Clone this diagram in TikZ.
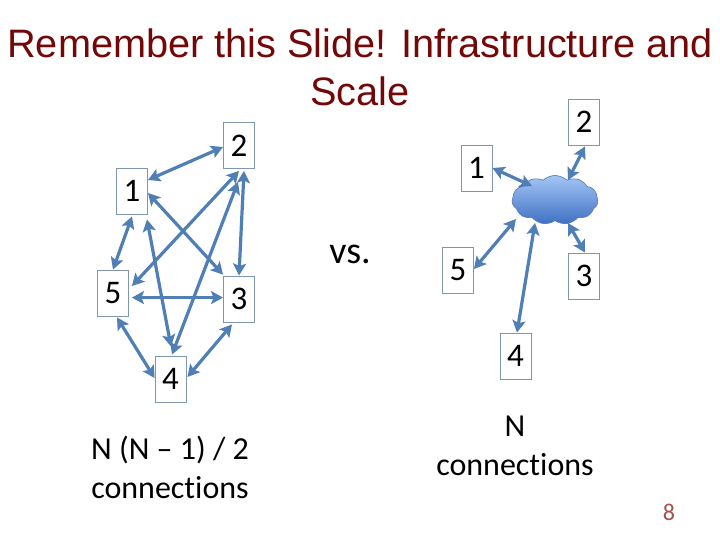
\documentclass[tikz,border=0pt]{standalone}
\usepackage{fontspec}
\setmainfont[Ligatures=CommonOff]{Carlito}
\newfontfamily\titlefont{Liberation Sans}
\usetikzlibrary{arrows.meta,shapes.symbols}
\definecolor{titlered}{HTML}{720808}
\definecolor{pagered}{HTML}{A5504A}
\definecolor{linkblue}{HTML}{4F7FB5}
\definecolor{boxedge}{HTML}{7F97AE}
\definecolor{cloudtop}{HTML}{A4C6F4}
\definecolor{cloudbot}{HTML}{3F70C4}
\definecolor{cloudedge}{HTML}{5B82B8}
\tikzset{
  numbox/.style={draw=boxedge,line width=0.9pt,fill=white,minimum width=31,minimum height=46,inner sep=0,font=\fontsize{33}{33}\selectfont,text=black},
  link/.style={draw=linkblue,line width=3.2pt,{Stealth[length=12pt,width=13pt,inset=2.5pt]}-{Stealth[length=12pt,width=13pt,inset=2.5pt]}},
  lbl/.style={align=center,font=\fontsize{32}{39}\selectfont,text=black,inner sep=0},
  ttl/.style={align=center,font=\titlefont\fontsize{39.7}{48}\selectfont,text=titlered,inner sep=0}
}
\begin{document}
\begin{tikzpicture}[x=1pt,y=-1pt]
\useasboundingbox (0,0) rectangle (720,540);
\node[ttl] (title) at (360,67) {Remember this Slide! Infrastructure and\\Scale};
% left
\node[numbox] (a2) at (239,145.5) {2};
\node[numbox] (a1) at (132,191) {1};
\node[numbox] (a5) at (113,293) {5};
\node[numbox] (a3) at (239,299) {3};
\node[numbox] (a4) at (170.5,379) {4};
\draw[link] ([shift={(0,-11)}]a1.east) -- ([shift={(0,1.5)}]a2.west);
\draw[link] ([shift={(0,2)}]a2.south) -- ([shift={(3,-7)}]a5.east);
\draw[link] ([shift={(-1,13)}]a2.south) -- ([shift={(1.5,-1)}]a4.north);
\draw[link] ([shift={(5,2)}]a2.south) -- ([shift={(0,0)}]a3.north);
\draw[link] ([shift={(0,2)}]a1.east) -- ([shift={(0,-1)}]a3.north west);
\draw[link] ([shift={(15,5)}]a1.south) -- ([shift={(0.5,-9)}]a4.north);
\draw[link] ([shift={(0,2)}]a1.south) -- ([shift={(0,0)}]a5.north);
\draw[link] ([shift={(3,4.6)}]a5.east) -- ([shift={(0,-1.4)}]a3.west);
\draw[link] ([shift={(4,1)}]a5.south) -- ([shift={(0,-1)}]a4.west);
\draw[link] ([shift={(-7,2)}]a3.south) -- ([shift={(1,-2)}]a4.east);
\node[lbl] (lblA) at (170,467.5) {N (N -- 1) / 2\\connections};
\node[lbl,font=\fontsize{38}{38}\selectfont] (vs) at (350,254) {vs.};
% right
\node[numbox] (b2) at (584,122) {2};
\node[numbox] (b1) at (476.5,168) {1};
\node[numbox] (b5) at (458,270) {5};
\node[numbox] (b3) at (584,276) {3};
\node[numbox] (b4) at (515.5,356) {4};
\node[cloud,cloud puffs=11,cloud puff arc=85,aspect=1.75,draw=cloudedge,line width=0.7pt,top color=cloudtop,bottom color=cloudbot,minimum width=86,minimum height=49,inner sep=0] (cl) at (555,200) {};
\draw[link] ([shift={(0,0)}]b1.east) -- ([shift={(-23,-14)}]cl.center);
\draw[link] ([shift={(1,1)}]b2.south) -- ([shift={(13,-20)}]cl.center);
\draw[link] ([shift={(0,-1)}]b5.east) -- ([shift={(-39,19)}]cl.center);
\draw[link] ([shift={(1.5,0)}]b4.north) -- ([shift={(-20,23)}]cl.center);
\draw[link] ([shift={(1,0)}]b3.north) -- ([shift={(13,23)}]cl.center);
\node[lbl] (lblB) at (515,445.5) {N\\connections};
\node[font=\fontsize{24}{24}\selectfont,text=pagered,inner sep=0] (pg) at (669,512) {8};
\end{tikzpicture}
\end{document}
